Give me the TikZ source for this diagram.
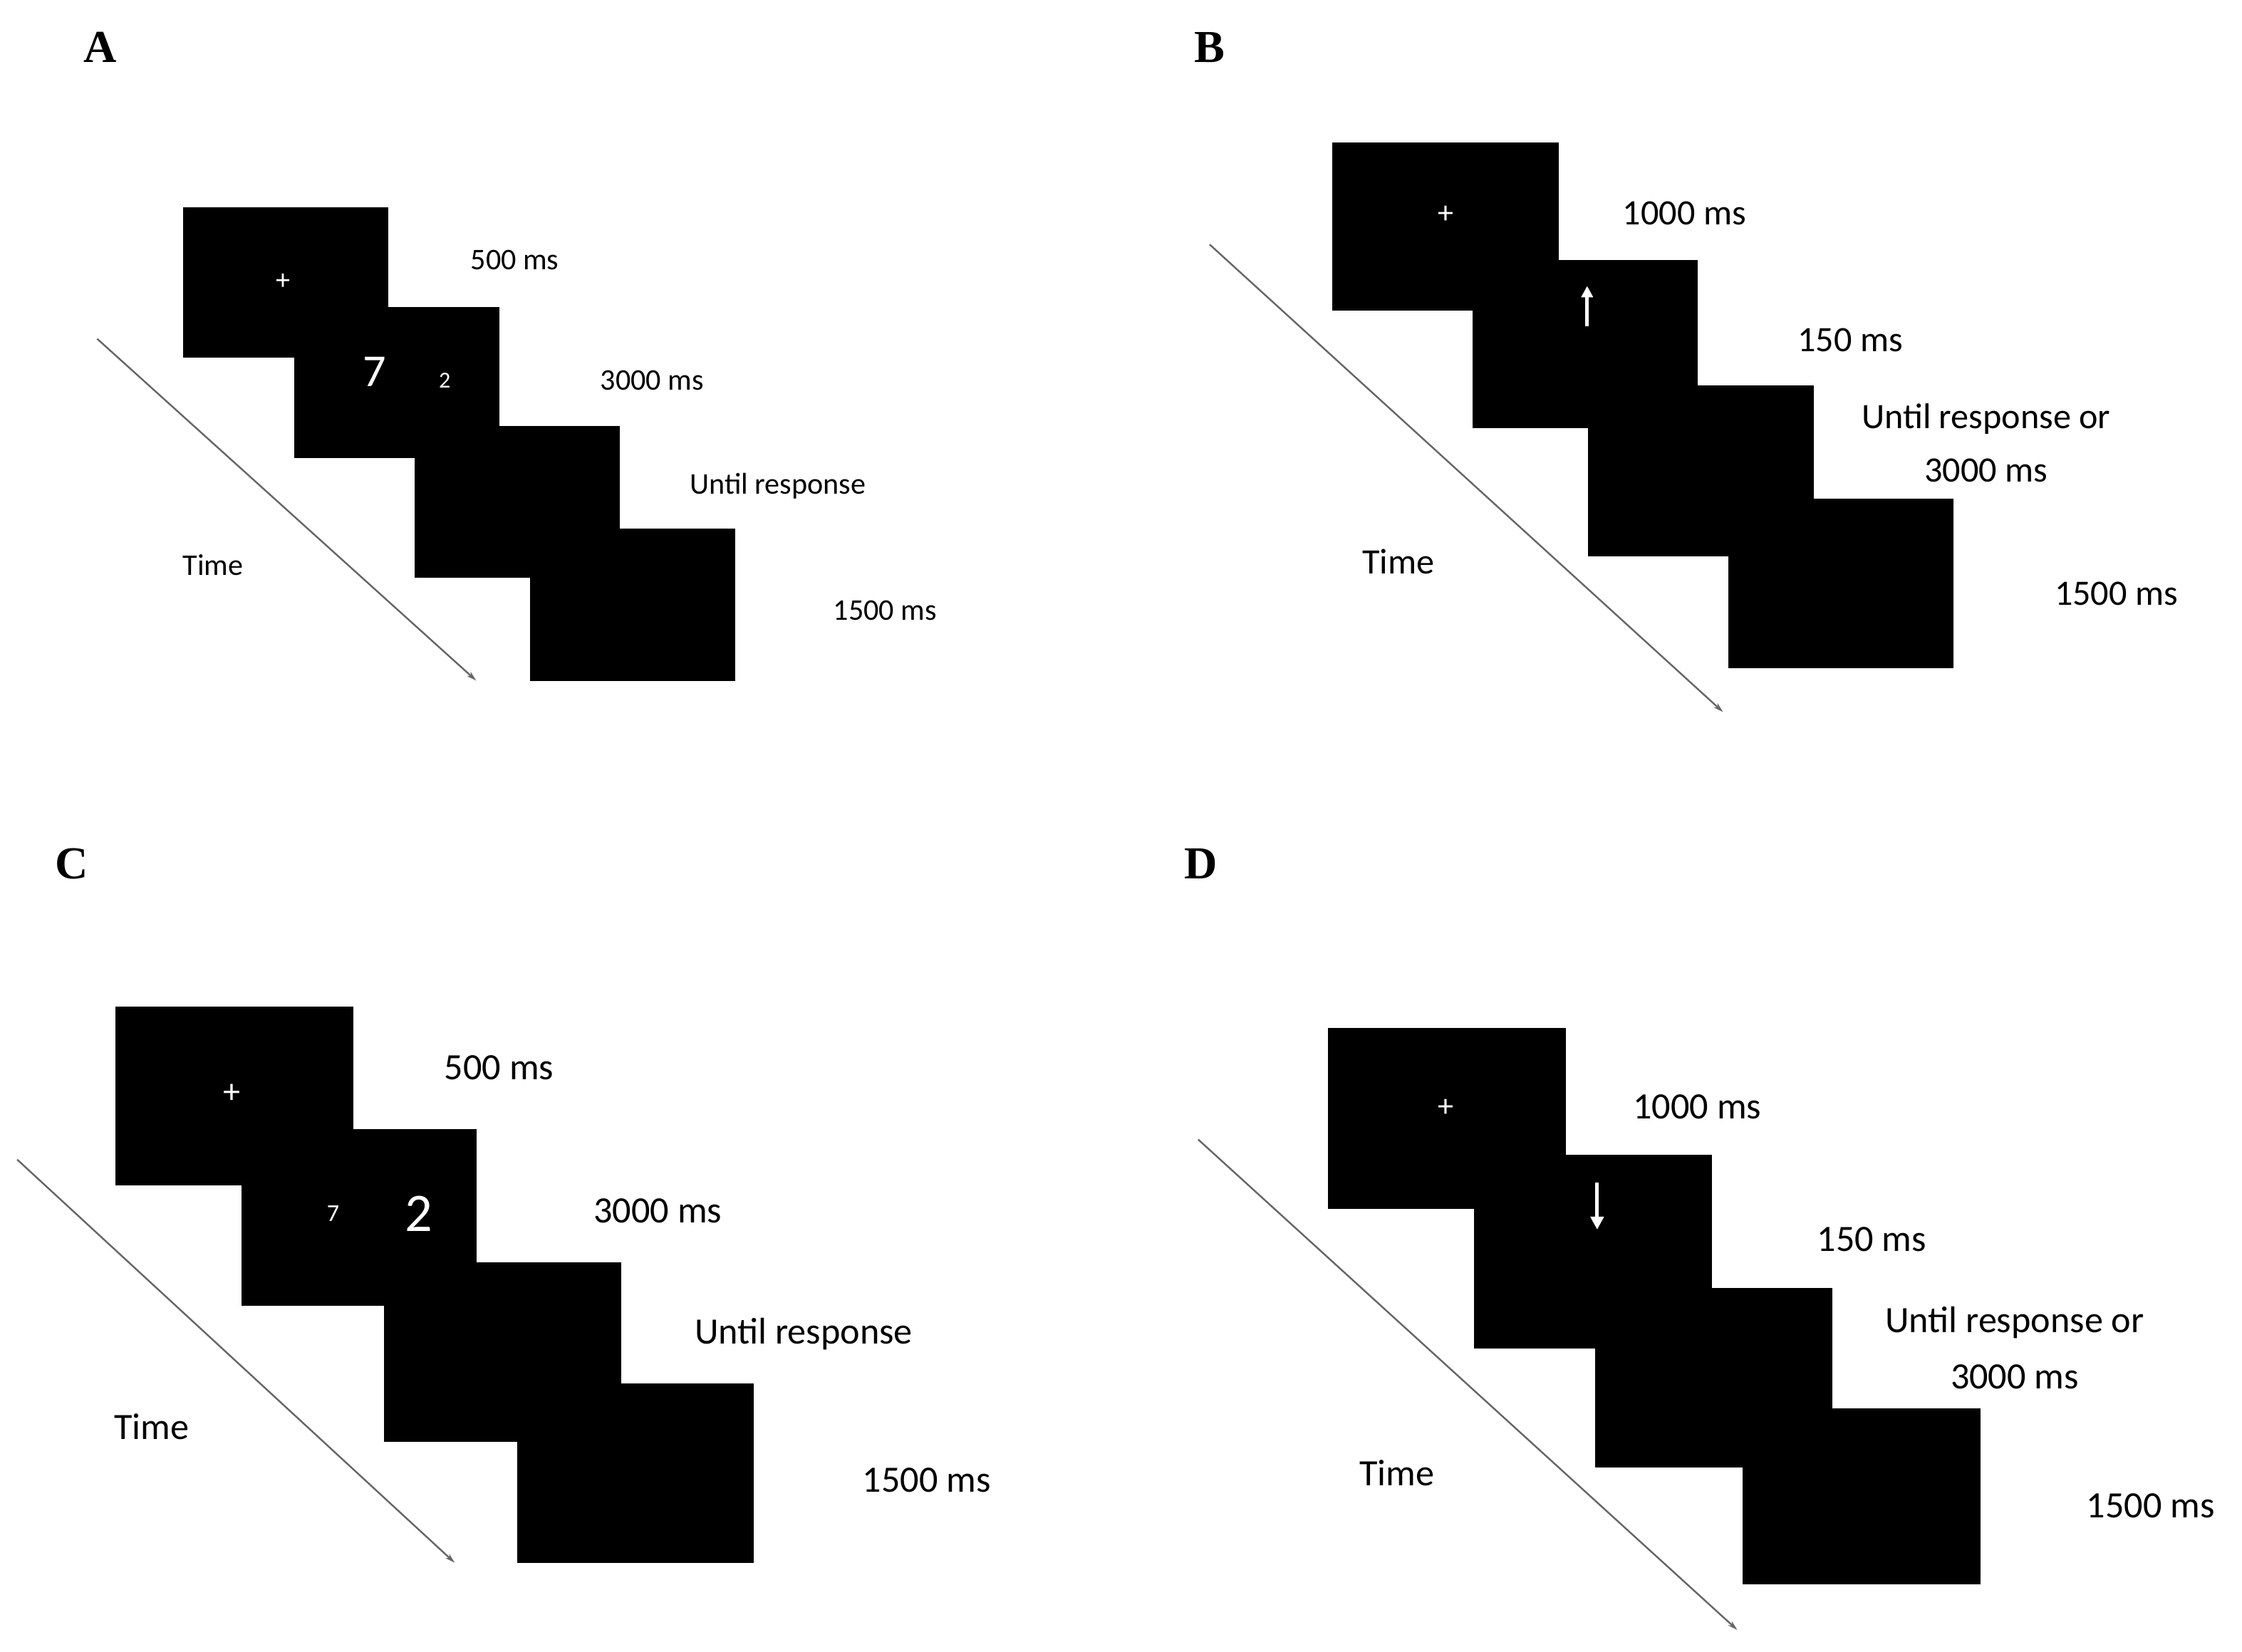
\documentclass[tikz,border=0pt]{standalone}
\usepackage{fontspec}
\setmainfont{Carlito}
\newfontfamily\letterfont{Liberation Serif}
\usetikzlibrary{arrows.meta}
\begin{document}
\begin{tikzpicture}[x=1pt,y=-1pt,
 scr/.style={fill=black,draw=black},
 lab/.style={font=\fontsize{#1}{#1}\selectfont,inner sep=0pt},
 panel/.style={font=\letterfont\bfseries\fontsize{32}{32}\selectfont,inner sep=0pt},
 time/.style={draw=gray!80!black,line width=1.2pt,-{Stealth[length=7pt,width=4pt]}},
 wl/.style={text=white,font=\fontsize{#1}{#1}\selectfont,inner sep=0pt}]
\useasboundingbox[fill=white] (0,0) rectangle (1568,1155);
% Panel A
\node[panel] (A) at (70,33) {A};
\path[scr] (128,145) rectangle (271,250);
\path[scr] (206,215) rectangle (349,320);
\path[scr] (290,298) rectangle (433,404);
\path[scr] (371,370) rectangle (514,476);
\node[wl=20] (ap) at (198,197) {+};
\node[wl=32] (a7) at (262,260) {7};
\node[wl=16] (a2) at (311,266) {2};
\node[lab=21] (a1) at (360,182) {500 ms};
\node[lab=21] (a2l) at (456,266) {3000 ms};
\node[lab=21] (a3) at (544,340) {Until response};
\node[lab=21] (a4) at (619,427) {1500 ms};
\node[lab=21] (at) at (149,395) {Time};
\coordinate (as) at (68,237); \coordinate (ae) at (333,476);
\draw[time] (as) -- (ae);
% Panel B
\node[panel] (B) at (846,33) {B};
\path[scr] (932,100) rectangle (1090,217);
\path[scr] (1030,182) rectangle (1187,299);
\path[scr] (1111,270) rectangle (1268,389);
\path[scr] (1209,349) rectangle (1366,467);
\node[wl=22] (bp) at (1011,150) {+};
\coordinate (bu1) at (1110,228); \coordinate (bu2) at (1110,200);
\draw[white,line width=2.5pt,-{Triangle[length=8pt,width=8pt]}] (bu1) -- (bu2);
\node[lab=25] (b1) at (1178,149) {1000 ms};
\node[lab=25] (b2) at (1294,238) {150 ms};
\node[lab=25] (b3) at (1389,293) {Until response or};
\node[lab=25] (b3b) at (1389,329) {3000 ms};
\node[lab=25] (b4) at (1480,415) {1500 ms};
\node[lab=25] (bt) at (978,393) {Time};
\coordinate (bs) at (846,171); \coordinate (be) at (1205,498);
\draw[time] (bs) -- (be);
% Panel C
\node[panel] (C) at (50,604) {C};
\path[scr] (81,704) rectangle (247,829);
\path[scr] (169,790) rectangle (333,913);
\path[scr] (269,883) rectangle (434,1008);
\path[scr] (362,968) rectangle (527,1093);
\node[wl=24] (cp) at (162,765) {+};
\node[wl=17] (c7) at (233,849) {7};
\node[wl=38] (c2) at (293,849) {2};
\node[lab=26] (c1) at (349,747) {500 ms};
\node[lab=26] (c2l) at (460,847) {3000 ms};
\node[lab=26] (c3) at (562,933) {Until response};
\node[lab=26] (c4) at (648,1035) {1500 ms};
\node[lab=26] (ct) at (106,998) {Time};
\coordinate (cs) at (12,811); \coordinate (ce) at (318,1093);
\draw[time] (cs) -- (ce);
% Panel D
\node[panel] (D) at (840,604) {D};
\path[scr] (929,719) rectangle (1095,845);
\path[scr] (1031,808) rectangle (1197,943);
\path[scr] (1116,901) rectangle (1281,1026);
\path[scr] (1219,985) rectangle (1385,1108);
\node[wl=22] (dp) at (1011,775) {+};
\coordinate (dd1) at (1117,827); \coordinate (dd2) at (1117,860);
\draw[white,line width=2.5pt,-{Triangle[length=9pt,width=9pt]}] (dd1) -- (dd2);
\node[lab=26] (d1) at (1187,774) {1000 ms};
\node[lab=26] (d2) at (1309,867) {150 ms};
\node[lab=26] (d3) at (1409,925) {Until response or};
\node[lab=26] (d3b) at (1409,963) {3000 ms};
\node[lab=26] (d4) at (1504,1053) {1500 ms};
\node[lab=26] (dt) at (977,1030) {Time};
\coordinate (ds) at (838,797); \coordinate (de) at (1215,1140);
\draw[time] (ds) -- (de);
\end{tikzpicture}
\end{document}
